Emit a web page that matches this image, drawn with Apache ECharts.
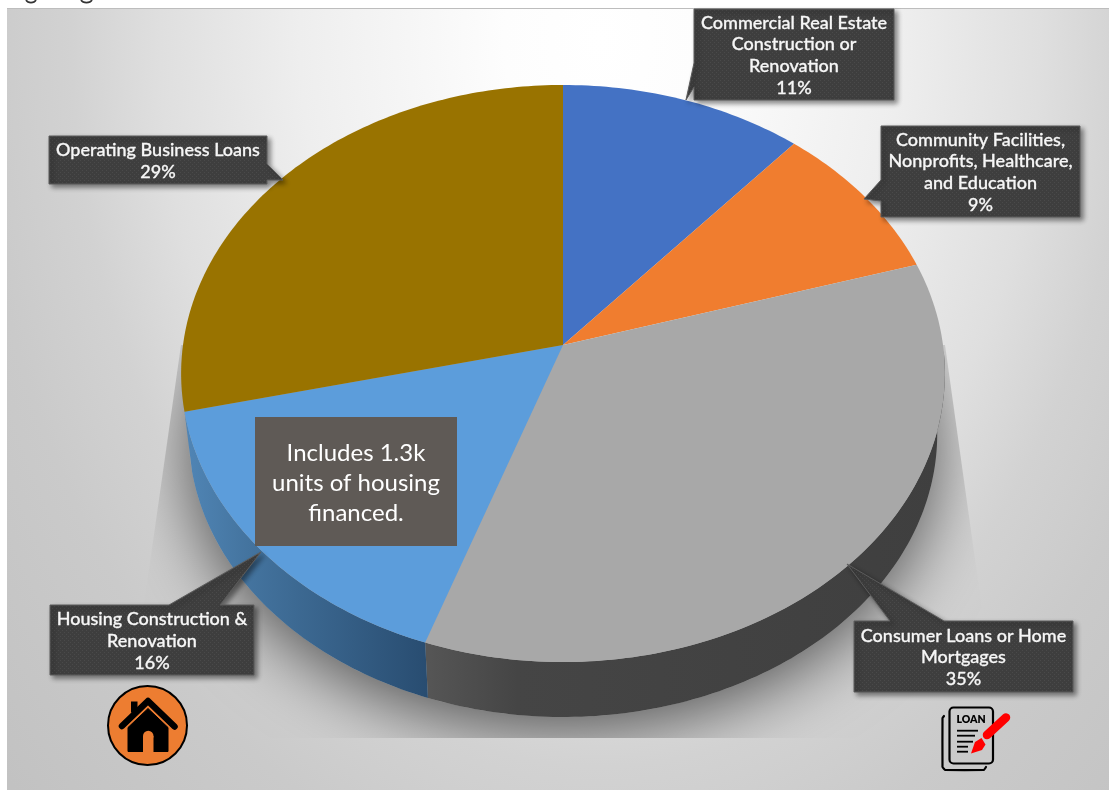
<!DOCTYPE html>
<html>
<head>
<meta charset="utf-8">
<title>Lending by sector</title>
<style>html,body{margin:0;padding:0;background:#fff}#chart{width:1109px;height:790px}</style>
<script src="https://cdn.jsdelivr.net/npm/echarts@6/dist/echarts.min.js"></script>
</head>
<body>
<div id="chart"></div>
<script>
// Loan portfolio shares, clockwise from twelve o'clock
const categories = [
  'Commercial Real Estate\nConstruction or\nRenovation',
  'Community Facilities,\nNonprofits, Healthcare,\nand Education',
  'Consumer Loans or Home\nMortgages',
  'Housing Construction &\nRenovation',
  'Operating Business Loans'
];
const shares = [11, 9, 35, 16, 29];
const topColors = ['#4472c4', '#f07d2f', '#a8a8a8', '#5c9ddb', '#997300'];
const noteText = 'Includes 1.3k\nunits of housing\nfinanced.';

// Perspective disc: apex, half axes and foreshortening of the upper and lower rims
const APEX = [563, 345];
const TOP_RIM = { cx: 563, cy: 345, a: 380, b: 285.7, k: 0.0988, s: 1 };
const LOW_RIM = { cx: 563, cy: 406.3, a: 380, b: 285.7, k: 0.0988, s: 0.98 };
const rad = d => d * Math.PI / 180;

// Angular lag of the tilted view; nothing at twelve o'clock, about a degree elsewhere
const viewAngle = d => d + 1.2 * Math.max(0, Math.min(1, d / 30, (360 - d) / 30));

function rimPoint(rim, deg) {
  const v = rad(viewAngle(deg));
  const sin = Math.sin(v), cos = Math.cos(v);
  const w = 1 + rim.k * cos;
  return [rim.cx + rim.s * rim.a * sin / w, rim.cy - rim.s * rim.b * cos / w];
}
function rimArc(rim, from, to) {
  const pts = [];
  const n = Math.max(1, Math.ceil(Math.abs(to - from)));
  for (let i = 0; i <= n; i++) pts.push(rimPoint(rim, from + (to - from) * i / n));
  return pts;
}
function sweep(index) {
  const total = shares.reduce((a, b) => a + b, 0);
  let acc = 0;
  for (let i = 0; i < index; i++) acc += shares[i];
  return [acc / total * 360, (acc + shares[index]) / total * 360];
}
const wallFill = [
  null, null,
  [[0, '#555555'], [0.17, '#454545'], [1, '#3f3f3f']],
  [[0, '#5085b5'], [0.25, '#44749f'], [1, '#284c70']],
  null
];
const wallSpan = [null, null, [430, 945], [186, 430], null];

function renderWall(params, api) {
  const i = params.dataIndex;
  if (!api.value(0) || !wallFill[i]) return null;
  const [a, b] = sweep(i);
  const from = Math.max(a, 90), to = Math.min(b, 270);
  const poly = rimArc(TOP_RIM, from, to).concat(rimArc(LOW_RIM, to, from));
  return {
    type: 'polygon',
    shape: { points: poly },
    style: {
      fill: new echarts.graphic.LinearGradient(wallSpan[i][0], 0, wallSpan[i][1], 0,
        wallFill[i].map(s => ({ offset: s[0], color: s[1] })), true)
    }
  };
}
function renderTop(params, api) {
  const i = params.dataIndex;
  if (!api.value(0)) return null;
  const [a, b] = sweep(i);
  return {
    type: 'polygon',
    shape: { points: [APEX].concat(rimArc(TOP_RIM, a, b)) },
    style: { fill: topColors[i] }
  };
}
function renderShadow() {
  return {
    type: 'polygon',
    shape: { points: rimArc(LOW_RIM, 0, 360) },
    clipPath: {
      type: 'polygon',
      shape: { points: [[181, 345], [945, 345], [1000, 738], [125, 738]] }
    },
    style: {
      fill: '#a8a8a8',
      shadowColor: 'rgba(80,80,80,1)',
      shadowBlur: 70,
      shadowOffsetY: 14
    }
  };
}

// Fine dotted texture of the callout boxes
function dotTexture() {
  const c = document.createElement('canvas');
  c.width = c.height = 4;
  const g = c.getContext('2d');
  g.fillStyle = '#3e3e3e';
  g.fillRect(0, 0, 4, 4);
  g.fillStyle = '#4a4a4a';
  g.fillRect(0, 0, 1, 1);
  g.fillRect(2, 2, 1, 1);
  return c;
}
const dots = { type: 'pattern', image: dotTexture(), repeat: 'repeat' };

const FONT = 'Lato, Carlito, "Noto Sans", sans-serif';
const callouts = [
  { box: [694, 9, 200, 91], outline: [[694, 9], [894, 9], [894, 100], [694, 100], [694, 87], [686, 100], [694, 63]] },
  { box: [881, 126, 199, 91], outline: [[881, 126], [1080, 126], [1080, 217], [881, 217], [881, 201], [864, 199], [881, 180]] },
  { box: [854, 621, 219, 71], outline: [[854, 621], [890, 621], [847, 564], [944, 621], [1073, 621], [1073, 692], [854, 692]] },
  { box: [50, 605, 204, 70], outline: [[50, 605], [169, 605], [261, 552], [220, 605], [254, 605], [254, 675], [50, 675]] },
  { box: [49, 136, 218, 48], outline: [[49, 136], [267, 136], [267, 164], [283, 180], [267, 180], [267, 184], [49, 184]] }
];
const calloutGraphics = callouts.flatMap((c, i) => [
  {
    type: 'polygon', z: 20,
    shape: { points: c.outline },
    style: {
      fill: dots, stroke: '#5c5c5c', lineWidth: 1,
      shadowColor: 'rgba(0,0,0,0.45)', shadowBlur: 5, shadowOffsetX: 3, shadowOffsetY: 3
    }
  },
  {
    type: 'text', z: 21,
    x: c.box[0] + c.box[2] / 2, y: c.box[1] + c.box[3] / 2 + 1,
    style: {
      text: categories[i] + '\n' + shares[i] + '%',
      fill: '#f6f6f6', font: '500 18px ' + FONT, lineHeight: 21.7,
      align: 'center', verticalAlign: 'middle',
      stroke: '#f6f6f6', lineWidth: 0.3
    }
  }
]);

const houseIcon = [
  { type: 'circle', z: 20, shape: { cx: 147.5, cy: 725.5, r: 39.5 }, style: { fill: '#ed7d31', stroke: '#000', lineWidth: 2 } },
  { type: 'rect', z: 21, shape: { x: 131, y: 701.5, width: 6.5, height: 11 }, style: { fill: '#000' } },
  { type: 'polyline', z: 21, shape: { points: [[122, 726], [148, 701], [174.5, 726.5]] }, style: { stroke: '#000', lineWidth: 6.5, lineCap: 'round', lineJoin: 'round', fill: 'none' } },
  { type: 'polyline', z: 21, shape: { points: [[125, 729], [148, 707], [171, 729]] }, style: { stroke: '#ed7d31', lineWidth: 1.2, fill: 'none' } },
  { type: 'polygon', z: 21, shape: { points: [[148, 708.5], [168, 727.5], [168, 751.5], [128, 751.5], [128, 727.5]] }, style: { fill: '#000', stroke: '#000', lineWidth: 1, lineJoin: 'round' } },
  { type: 'rect', z: 22, shape: { x: 143, y: 736, width: 10.5, height: 16.5 }, style: { fill: '#ed7d31' } },
  { type: 'circle', z: 22, shape: { cx: 148.25, cy: 736, r: 5.25 }, style: { fill: '#ed7d31' } }
];
const loanIcon = [
  { type: 'polyline', z: 20, shape: { points: [[944, 716], [942.5, 718], [942.5, 767], [945, 770], [984, 770], [986, 767]], smooth: 0.05 }, style: { stroke: '#000', lineWidth: 2.2, fill: 'none', lineCap: 'round' } },
  { type: 'rect', z: 20, shape: { x: 949.5, y: 707.5, width: 43.5, height: 56, r: 4 }, style: { fill: 'none', stroke: '#000', lineWidth: 2.2 } },
  { type: 'text', z: 21, x: 971, y: 719.5, style: { text: 'LOAN', fill: '#000', font: '800 10.5px ' + FONT, align: 'center', verticalAlign: 'middle' } },
  ...[[730.7, 978], [735.7, 975], [741.7, 973], [746.7, 968], [751.7, 968]].map(l => ({
    type: 'line', z: 21, shape: { x1: 957, y1: l[0], x2: l[1], y2: l[0] }, style: { stroke: '#000', lineWidth: 1.8 }
  })),
  { type: 'line', z: 22, shape: { x1: 987, y1: 735, x2: 1006, y2: 717.5 }, style: { stroke: '#ff0000', lineWidth: 8.5, lineCap: 'round' } },
  { type: 'polygon', z: 22, shape: { points: [[971, 753.5], [975, 742], [981.5, 738], [985.5, 744.5], [982, 750]] }, style: { fill: '#ff0000' } }
];

const chart = echarts.init(document.getElementById('chart'), null, { renderer: 'canvas' });
chart.setOption({
  animation: false,
  series: [
    { type: 'custom', z: 2, coordinateSystem: 'none', silent: true, data: [1], renderItem: renderShadow },
    { type: 'custom', z: 3, coordinateSystem: 'none', silent: true, data: shares, renderItem: renderWall },
    { type: 'custom', z: 4, coordinateSystem: 'none', silent: true, data: shares, renderItem: renderTop }
  ],
  graphic: {
    elements: [
      // Panel with an elliptical light falloff; the scale stretches the gradient vertically
      {
        type: 'rect', z: -2, x: 0, y: 40, scaleY: 1.375,
        shape: { x: 7, y: (9 - 40) / 1.375, width: 1102, height: 781 / 1.375 },
        style: {
          fill: new echarts.graphic.RadialGradient(600, 0, 800, [
            { offset: 0, color: '#ffffff' }, { offset: 0.12, color: '#fdfdfd' },
            { offset: 0.375, color: '#eeeeee' }, { offset: 0.55, color: '#dfdfdf' },
            { offset: 0.66, color: '#d2d2d2' }, { offset: 0.78, color: '#cacaca' },
            { offset: 1, color: '#c2c2c2' }
          ], true)
        }
      },
      { type: 'rect', z: -1, shape: { x: 7, y: 8, width: 1102, height: 1 }, style: { fill: '#bdbdbd' } },
      // Tails of the cut-off heading above the panel
      { type: 'bezierCurve', z: -1, shape: { x1: 26, y1: 0, x2: 36, y2: 0, cpx1: 28, cpy1: 3.5, cpx2: 34, cpy2: 3.5 }, style: { stroke: '#333', lineWidth: 1.6, fill: 'none' } },
      { type: 'bezierCurve', z: -1, shape: { x1: 81, y1: 0, x2: 92, y2: 0, cpx1: 83, cpy1: 3.5, cpx2: 90, cpy2: 3.5 }, style: { stroke: '#333', lineWidth: 1.6, fill: 'none' } },
      ...calloutGraphics,
      { type: 'rect', z: 20, shape: { x: 255, y: 417, width: 202, height: 129 }, style: { fill: '#5f5a56' } },
      {
        type: 'text', z: 21, x: 356, y: 483,
        style: { text: noteText, fill: '#ffffff', font: '400 24px ' + FONT, lineHeight: 30, align: 'center', verticalAlign: 'middle' }
      },
      ...houseIcon,
      ...loanIcon
    ]
  }
});
</script>
</body>
</html>
